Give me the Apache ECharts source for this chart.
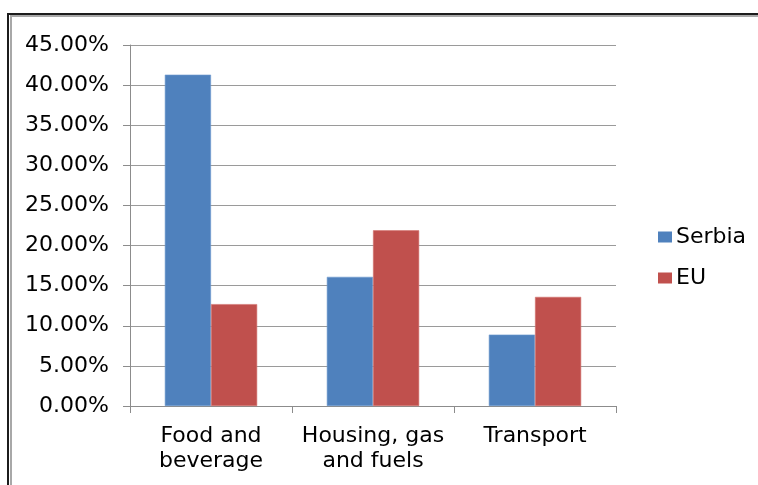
<!DOCTYPE html>
<html>
<head>
<meta charset="utf-8">
<style>
  html, body { margin: 0; padding: 0; background: #ffffff; }
  #chart { width: 758px; height: 485px; }
</style>
<script src="https://cdn.jsdelivr.net/npm/echarts@6/dist/echarts.min.js"></script>
</head>
<body>
<div id="chart"></div>
<script>
// Household spending shares by category, Serbia vs EU (percent)
const categories = ['Food and\nbeverage', 'Housing, gas\nand fuels', 'Transport'];
const serbiaShare = [41.3, 16.1, 8.9];
const euShare = [12.7, 21.9, 13.6];
const seriesNames = ['Serbia', 'EU'];

const FONT = 'DejaVu Sans';
const chart = echarts.init(document.getElementById('chart'), null, { renderer: 'canvas' });

chart.setOption({
  backgroundColor: '#ffffff',
  animation: false,
  textStyle: { fontFamily: FONT },
  graphic: [
    // double frame around the chart area
    { type: 'rect', silent: true, z: 100,
      shape: { x: 8, y: 14, width: 900, height: 700 },
      style: { fill: 'none', stroke: '#1c1c1c', lineWidth: 2 } },
    { type: 'rect', silent: true, z: 100,
      shape: { x: 11, y: 16, width: 900, height: 700 },
      style: { fill: 'none', stroke: '#a8a8a8', lineWidth: 2 } }
  ],
  grid: { left: 130, right: 142, top: 45, bottom: 79, containLabel: false },
  legend: {
    orient: 'vertical',
    left: 653,
    top: 221,
    itemWidth: 14,
    itemHeight: 11,
    itemGap: 19,
    icon: 'rect',
    itemStyle: { borderWidth: 0 },
    textStyle: { fontFamily: FONT, fontSize: 22, color: '#000000', padding: [0, 0, 0, -1] },
    data: seriesNames
  },
  xAxis: {
    type: 'category',
    data: categories,
    axisLine: { show: true, lineStyle: { color: '#8c8c8c', width: 1 } },
    axisTick: { show: true, alignWithLabel: false, length: 7, lineStyle: { color: '#8c8c8c' } },
    axisLabel: { fontFamily: FONT, fontSize: 22, color: '#000000', margin: 18, lineHeight: 25, interval: 0 },
    splitLine: { show: false }
  },
  yAxis: {
    type: 'value',
    min: 0,
    max: 45,
    interval: 5,
    axisLine: { show: true, lineStyle: { color: '#8c8c8c', width: 1 } },
    axisTick: { show: true, length: 7, inside: false, lineStyle: { color: '#8c8c8c' } },
    axisLabel: {
      fontFamily: FONT, fontSize: 22, color: '#000000', margin: 21,
      formatter: v => v.toFixed(2) + '%'
    },
    splitLine: { show: true, lineStyle: { color: '#9a9a9a', width: 1 } }
  },
  series: [
    {
      name: seriesNames[0],
      type: 'bar',
      data: serbiaShare,
      barGap: '0%',
      barCategoryGap: '43%',
      itemStyle: { color: '#4f81bd', borderColor: '#6f9ad0', borderWidth: 0.6 }
    },
    {
      name: seriesNames[1],
      type: 'bar',
      data: euShare,
      barGap: '0%',
      barCategoryGap: '43%',
      itemStyle: { color: '#c0504d', borderColor: '#d47370', borderWidth: 0.6 }
    }
  ]
});
</script>
</body>
</html>
